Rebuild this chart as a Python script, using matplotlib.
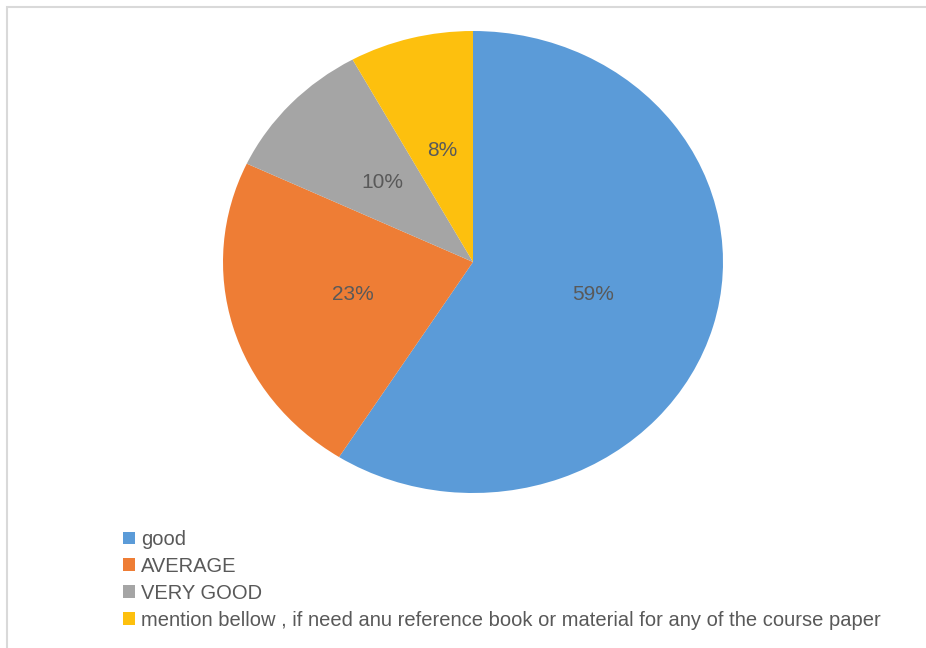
import matplotlib.pyplot as plt
from matplotlib.patches import Patch, Rectangle

plt.rcParams['font.family'] = ['Liberation Sans', 'DejaVu Sans']

labels = ['good', 'AVERAGE', 'VERY GOOD',
          'mention bellow , if need anu reference book or material for any of the course paper']
values = [59, 23, 10, 8]
colors = ['#5B9BD8', '#EE7D35', '#A5A5A5', '#FDC00E']
text_color = '#595959'

fig = plt.figure(figsize=[9.26, 6.48], dpi=100)

# light frame round the chart area
fig.patches.append(Rectangle((7 / 926, -0.1), 1.1, (641 + 64.8) / 648, transform=fig.transFigure,
                             fill=False, edgecolor='#d9d9d9', linewidth=1.5))

# pie is a bit wider than tall in the reference, so no equal aspect
ax = fig.add_axes([223 / 926, 155 / 648, 500 / 926, 462 / 648])
wedges, texts, autotexts = ax.pie(values, colors=colors, startangle=90, counterclock=False,
                                  autopct='%.0f%%', pctdistance=0.5,
                                  textprops={'fontsize': 15, 'color': text_color})
ax.set_aspect('auto')
ax.set_xlim(-1, 1)
ax.set_ylim(-1, 1)
ax.axis('off')

handles = [Patch(facecolor=c, edgecolor='none') for c in colors]
fig.legend(handles, labels, loc='upper left', bbox_to_anchor=(105 / 926, 1 - 512 / 648),
           frameon=False, fontsize=14.5, labelcolor=text_color,
           handlelength=0.6, handleheight=0.6, handletextpad=0.3, labelspacing=0.39)

fig.savefig('out.png', dpi=100)
